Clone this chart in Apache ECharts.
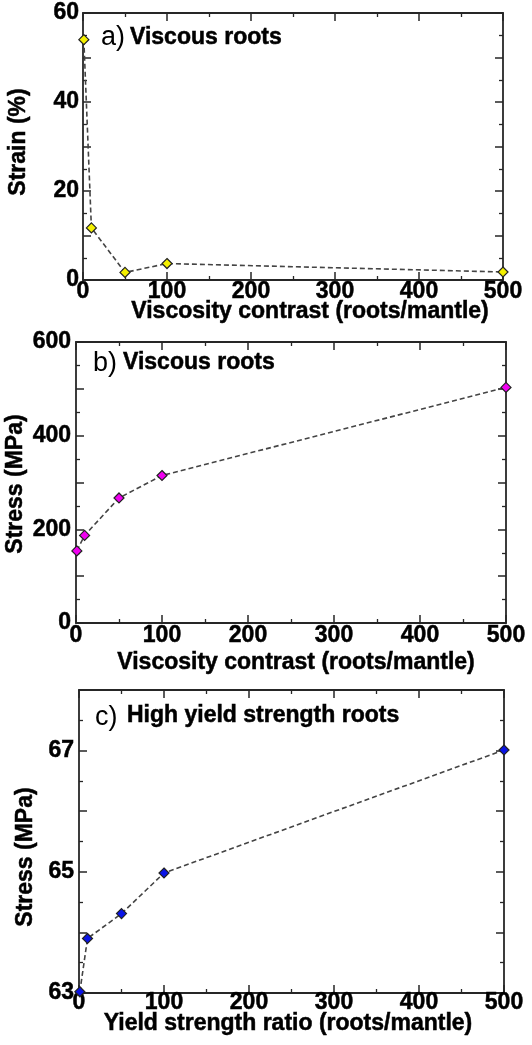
<!DOCTYPE html>
<html>
<head>
<meta charset="utf-8">
<script src="https://cdn.jsdelivr.net/npm/echarts@6/dist/echarts.min.js"></script>
<style>
  html, body { margin: 0; padding: 0; background: #ffffff; }
  #chart { width: 532px; height: 1045px; }
</style>
</head>
<body>
<div id="chart"></div>
<script>
// Ratio of root property to mantle property (shared by all panels)
const ratios = [1, 10, 50, 100, 500];

// a) viscous roots: strain (%)
const strainViscous = [54, 11.7, 1.7, 3.7, 1.8];
// b) viscous roots: stress (MPa)
const stressViscous = [154, 187, 267, 315, 503];
// c) high yield strength roots: stress (MPa)
const stressYield = [63.02, 63.9, 64.31, 64.98, 67.01];

const xTickLabels = ['0', '100', '200', '300', '400', '500'];
const strainTickLabels = ['0', '20', '40', '60'];
const stressTickLabels = ['0', '200', '400', '600'];
const yieldStressTickLabels = ['63', '65', '67'];

const panelTags = ['a)', 'b)', 'c)'];
const panelTitles = ['Viscous roots', 'Viscous roots', 'High yield strength roots'];
const xTitles = ['Viscosity contrast (roots/mantle)', 'Viscosity contrast (roots/mantle)', 'Yield strength ratio (roots/mantle)'];
const yTitles = ['Strain (%)', 'Stress (MPa)', 'Stress (MPa)'];

const FONT = '"Liberation Sans", Arial, sans-serif';
const FRAME = '#262626';
const LINE = '#444444';

const chart = echarts.init(document.getElementById('chart'), null, { renderer: 'canvas' });

// Plot frames for the three stacked panels
const grids = [
  { left: 83, top: 13, width: 420, height: 267 },
  { left: 76, top: 342, width: 430, height: 281 },
  { left: 79, top: 690, width: 425, height: 303 }
];
const xLabelMargins = [0, 1, -1.5];
const yLabelMargins = [4, 5, 5];

// y ranges and which tick values get a label
const yRanges = [
  { min: 0, max: 60, interval: 10, labels: strainTickLabels },
  { min: 0, max: 600, interval: 100, labels: stressTickLabels },
  { min: 63, max: 68, interval: 1, labels: yieldStressTickLabels }
];

const markerColors = ['#f4f000', '#f000f0', '#0a14e6'];
const seriesData = [strainViscous, stressViscous, stressYield];

const labelText = {
  color: '#000', fontFamily: FONT, fontWeight: 'bold', fontSize: 23,
  textBorderColor: '#000', textBorderWidth: 0.5
};

function tickStyle() {
  return {
    axisLine: { show: true, onZero: false, lineStyle: { color: FRAME, width: 1.8 } },
    axisTick: { show: true, inside: true, length: 8, lineStyle: { color: FRAME, width: 1.5 } },
    minorTick: { show: true, splitNumber: 2, length: 4, lineStyle: { color: FRAME, width: 1.3 } },
    splitLine: { show: false },
    minorSplitLine: { show: false }
  };
}

const xAxes = [];
const yAxes = [];
grids.forEach((g, i) => {
  const xr = { type: 'value', gridIndex: i, min: 0, max: 500, interval: 100 };
  xAxes.push(Object.assign({}, xr, tickStyle(), {
    position: 'bottom',
    axisLabel: Object.assign({
      show: true, margin: xLabelMargins[i],
      formatter: v => (xTickLabels.indexOf(String(v)) >= 0 ? String(v) : '')
    }, labelText)
  }));
  xAxes.push(Object.assign({}, xr, tickStyle(), { position: 'top', axisLabel: { show: false } }));

  const yr = yRanges[i];
  const yb = { type: 'value', gridIndex: i, min: yr.min, max: yr.max, interval: yr.interval };
  yAxes.push(Object.assign({}, yb, tickStyle(), {
    position: 'left',
    axisLabel: Object.assign({
      show: true, margin: yLabelMargins[i],
      formatter: v => (yr.labels.indexOf(String(v)) >= 0 ? String(v) : '')
    }, labelText)
  }));
  yAxes.push(Object.assign({}, yb, tickStyle(), { position: 'right', axisLabel: { show: false } }));
});

const series = seriesData.map((vals, i) => ({
  type: 'line',
  xAxisIndex: i * 2,
  yAxisIndex: i * 2,
  data: ratios.map((r, k) => [r, vals[k]]),
  symbol: 'diamond',
  symbolSize: [10, 10],
  itemStyle: { color: markerColors[i], borderColor: '#222', borderWidth: 1.2 },
  lineStyle: { color: LINE, width: 1.6, type: [5, 3] },
  emphasis: { disabled: true },
  animation: false,
  z: 3
}));

// Panel tags, panel titles, axis titles
const tagPos = [[101, 38], [93, 364], [95, 718]];
const titlePos = [[130, 38], [123, 363], [127, 716]];
const xTitlePos = [[310, 312], [296, 663], [288, 1024]];
const yTitlePos = [[19, 142], [16, 484], [26, 857]];

const strong = { fill: '#000', stroke: '#000', lineWidth: 0.5 };
const graphic = [];
for (let i = 0; i < 3; i++) {
  graphic.push({
    type: 'text', x: tagPos[i][0], y: tagPos[i][1],
    style: { text: panelTags[i], font: 'normal 27px ' + FONT, fill: '#000', align: 'left', verticalAlign: 'middle' }
  });
  graphic.push({
    type: 'text', x: titlePos[i][0], y: titlePos[i][1],
    style: Object.assign({ text: panelTitles[i], font: 'bold 23px ' + FONT, align: 'left', verticalAlign: 'middle' }, strong)
  });
  graphic.push({
    type: 'text', x: xTitlePos[i][0], y: xTitlePos[i][1],
    style: Object.assign({ text: xTitles[i], font: 'bold 23px ' + FONT, align: 'center', verticalAlign: 'middle' }, strong)
  });
  graphic.push({
    type: 'text', x: yTitlePos[i][0], y: yTitlePos[i][1], rotation: Math.PI / 2,
    style: Object.assign({ text: yTitles[i], font: 'bold 23px ' + FONT, align: 'center', verticalAlign: 'middle' }, strong)
  });
}

chart.setOption({
  backgroundColor: '#ffffff',
  animation: false,
  grid: grids.map(g => Object.assign({ containLabel: false }, g)),
  xAxis: xAxes,
  yAxis: yAxes,
  series: series,
  graphic: graphic
});
</script>
</body>
</html>
